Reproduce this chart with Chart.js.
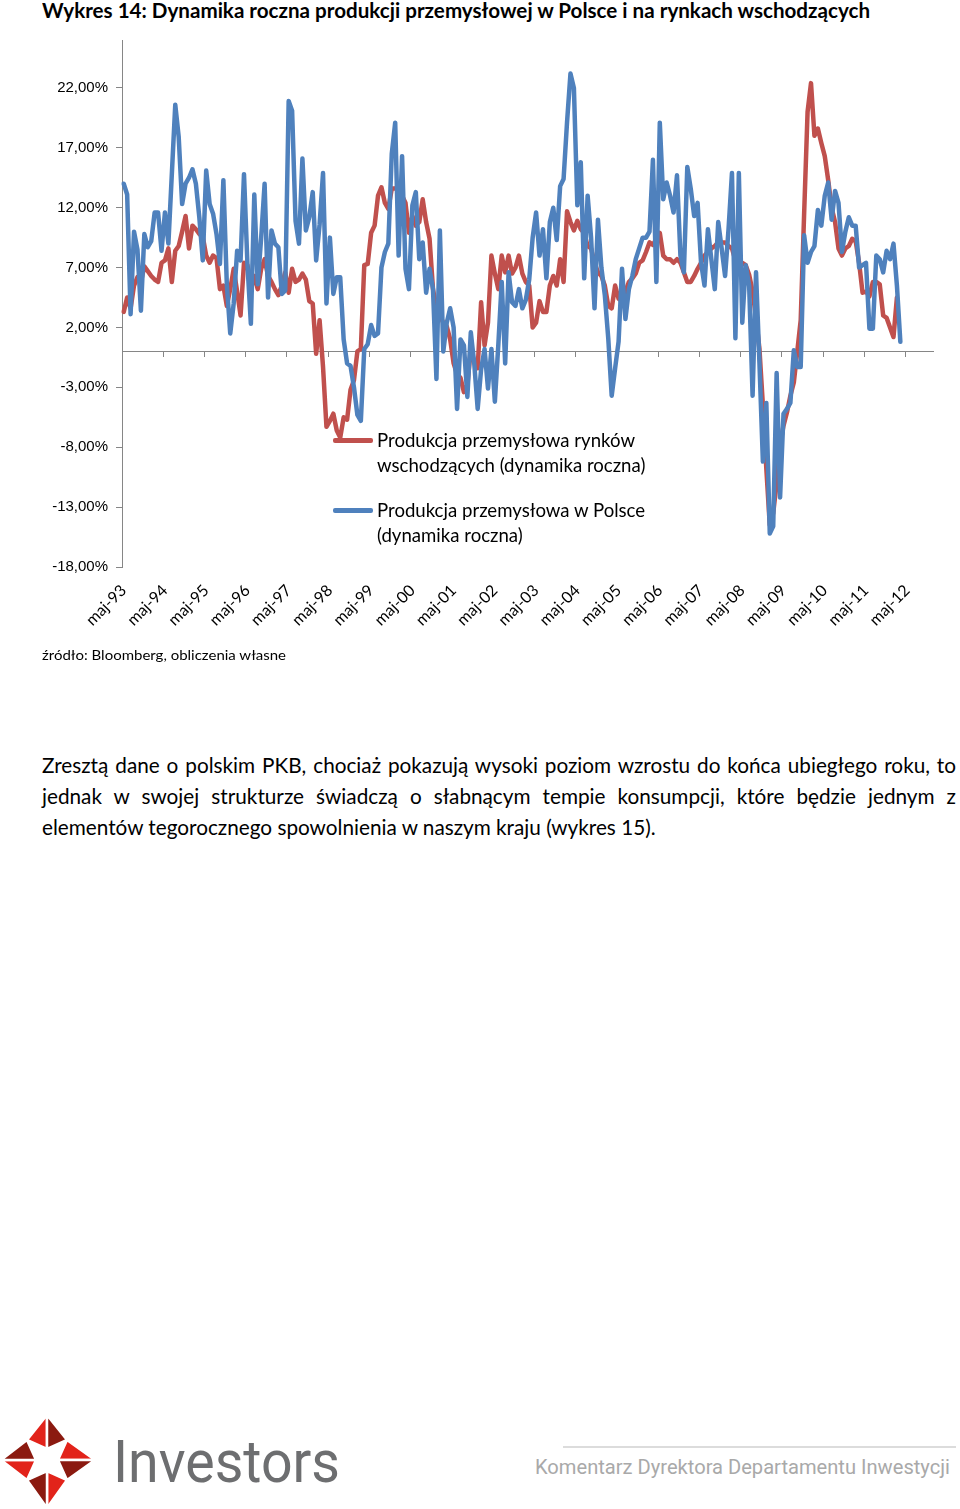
<!DOCTYPE html>
<html lang="pl">
<head>
<meta charset="utf-8">
<script src="https://cdn.jsdelivr.net/npm/chart.js@4.4.0/dist/chart.umd.min.js"></script>
<style>
  html, body { margin: 0; padding: 0; background: #fff; }
  body { width: 960px; height: 1509px; position: relative; overflow: hidden; font-family: Lato, sans-serif; color: #000; }
  .fit { display: inline-block; white-space: nowrap; transform-origin: 0 50%; }
  .title { position: absolute; left: 42px; top: -2px; font-weight: 700; font-size: 20px; line-height: 24px; }
  .chart-box { position: absolute; left: 40px; top: 28px; width: 900px; height: 620px; }
  .legend { position: absolute; left: 333px; top: 428px; font-size: 18.6px; line-height: 25px; }
  .legend-item { display: flex; align-items: flex-start; margin-bottom: 20px; }
  .legend-item .swatch { width: 40px; height: 5px; margin-top: 10px; margin-right: 4px; border-radius: 2px; flex: none; }
  .source { position: absolute; left: 42px; top: 646px; font-size: 14px; line-height: 18px; }
  .para { position: absolute; left: 42px; top: 750px; width: 914px; font-size: 20px; line-height: 31px; }
  .para div { text-align: justify; text-align-last: justify; white-space: nowrap; }
  .para div.last { text-align-last: left; }
  .logo { position: absolute; left: 0; top: 1413px; }
  .brand { position: absolute; left: 113px; top: 1432px; font-family: Roboto, sans-serif; font-size: 60px; line-height: 60px; color: #6d6e70; }
  .rule { position: absolute; left: 563px; top: 1446px; width: 393px; height: 2px; background: #dcdcdc; }
  .komentarz { position: absolute; left: 535px; top: 1455px; font-family: Roboto, sans-serif; font-size: 21px; line-height: 24px; color: #a9a9a9; }
</style>
</head>
<body>
<div class="title"><span class="fit" id="tytul">Wykres 14: Dynamika roczna produkcji przemysłowej w Polsce i na rynkach wschodzących</span></div>

<div class="chart-box"><canvas id="wykres" width="900" height="620"></canvas></div>
<div class="legend" id="legenda"></div>

<div class="source"><span class="fit" id="zrodlo">źródło: Bloomberg, obliczenia własne</span></div>

<div class="para" id="akapit">
  <div>Zresztą dane o polskim PKB, chociaż pokazują wysoki poziom wzrostu do końca ubiegłego roku, to</div>
  <div>jednak w swojej strukturze świadczą o słabnącym tempie konsumpcji, które będzie jednym z</div>
  <div class="last"><span id="linia3">elementów tegorocznego spowolnienia w naszym kraju (wykres 15).</span></div>
</div>

<svg class="logo" width="98" height="98" viewBox="0 0 98 98">
  <g stroke="#fff" stroke-width="2.5" stroke-linejoin="miter">
    <polygon points="47,2 47,36 27,27" fill="#e2231a"/>
    <polygon points="47,2 67,27 47,36" fill="#8b1a10"/>
    <polygon points="95,47 58,47 67,27" fill="#e2231a"/>
    <polygon points="95,47 67,67 58,47" fill="#8b1a10"/>
    <polygon points="47,95 47,58 67,67" fill="#e2231a"/>
    <polygon points="47,95 27,67 47,58" fill="#8b1a10"/>
    <polygon points="1,47 36,47 27,67" fill="#e2231a"/>
    <polygon points="1,47 27,27 36,47" fill="#8b1a10"/>
  </g>
</svg>
<div class="brand"><span class="fit" id="marka">Investors</span></div>
<div class="rule"></div>
<div class="komentarz"><span class="fit" id="komentarz">Komentarz Dyrektora Departamentu Inwestycji</span></div>

<script>
// miesięczne kategorie: maj 1993 - grudzień 2012 (dane do kwietnia 2012)
const miesiace = ['sty', 'lut', 'mar', 'kwi', 'maj', 'cze', 'lip', 'sie', 'wrz', 'paź', 'lis', 'gru'];
const rokStart = 1993;
const miesiacStart = 4;
const liczbaMiesiecy = 236;

const yTicks = [-18, -13, -8, -3, 2, 7, 12, 17, 22];

const seriaRynki = 'Produkcja przemysłowa rynków wschodzących (dynamika roczna)';
const seriaPolska = 'Produkcja przemysłowa w Polsce (dynamika roczna)';

// dynamika r/r w %
const produkcjaRynki = [
  3.3, 4.5, 3.6, 5.5, 6.2, 5.8, 7.1, 6.7, 6.3, 6.0,
  5.8, 7.4, 7.6, 8.6, 5.8, 8.4, 8.8, 10.0, 11.3, 8.6,
  10.5, 10.2, 9.8, 9.6, 8.0, 7.4, 8.0, 7.8, 5.2, 5.5,
  3.8, 5.2, 6.9, 5.0, 3.0, 7.4, 7.2, 5.2, 6.3, 5.2,
  6.9, 7.7, 6.3, 5.8, 5.2, 4.7, 5.5, 6.6, 4.9, 6.9,
  5.8, 6.0, 6.5, 6.0, 4.2, 4.0, -0.2, 2.6, -1.3, -6.3,
  -5.8, -5.2, -6.6, -7.2, -5.5, -5.7, -3.2, -2.4, 0.0, 0.2,
  7.2, 7.3, 9.9, 10.5, 13.0, 13.7, 12.4, 11.9, 13.6, 13.6,
  13.8, 13.0, 12.4, 9.9, 11.3, 10.5, 10.8, 12.7, 10.8, 9.4,
  5.2, 3.6, 3.0, 2.4, 2.1, 1.0, -1.0, -1.9, -2.2, -3.4,
  -2.8, 0.2, -0.9, -1.4, 4.1, 0.5, 2.4, 8.0, 6.5, 5.2,
  8.0, 6.6, 8.0, 6.5, 7.0, 8.0, 6.5, 5.8, 5.5, 2.0,
  2.4, 4.2, 3.3, 3.3, 5.5, 6.3, 5.5, 7.7, 5.8, 11.7,
  10.8, 10.1, 10.9, 10.2, 9.9, 8.8, 8.6, 7.4, 6.6, 6.3,
  5.5, 3.8, 3.6, 5.5, 4.4, 4.2, 5.0, 5.8, 6.1, 6.5,
  7.4, 7.6, 8.3, 9.1, 8.9, 9.4, 9.9, 8.0, 7.7, 7.7,
  7.4, 7.7, 7.4, 6.6, 5.8, 5.8, 6.3, 6.9, 7.4, 8.0,
  8.3, 8.6, 8.8, 9.1, 9.1, 9.1, 8.8, 8.6, 7.6, 7.4,
  7.4, 7.2, 6.4, 5.0, 2.8, 0.2, -4.5, -9.8, -14.5, -13.5,
  -11.0, -7.8, -6.2, -5.1, -3.7, -2.6, 0.0, 2.6, 11.5, 20.0,
  22.4, 18.0, 18.6, 17.4, 16.3, 14.3, 12.0, 10.8, 8.6, 8.0,
  8.6, 8.8, 9.4, 9.2, 7.4, 4.9, 5.0, 4.6, 5.8, 5.8,
  5.6, 3.0, 2.8, 2.0, 1.2, 4.5
];

const produkcjaPolska = [
  14.0, 13.1, 3.1, 10.0, 8.5, 3.4, 9.8, 8.7, 9.2, 11.6,
  11.6, 8.4, 11.6, 9.0, 14.8, 20.6, 17.9, 12.3, 14.0, 14.5,
  15.2, 14.0, 11.2, 7.6, 15.1, 12.3, 11.5, 9.8, 7.3, 14.3,
  5.6, 1.5, 4.0, 8.4, 7.6, 14.8, 7.3, 2.3, 13.1, 5.6,
  9.5, 14.0, 4.5, 10.1, 9.0, 8.7, 4.8, 5.1, 20.9, 20.1,
  10.9, 9.0, 16.1, 10.1, 11.2, 13.3, 7.6, 10.6, 14.9, 4.0,
  9.5, 4.8, 6.2, 6.2, 1.0, -1.0, -1.2, -3.0, -5.3, -5.8,
  0.2, 0.6, 2.2, 1.3, 1.5, 7.0, 8.3, 9.0, 16.5, 19.1,
  8.0, 16.3, 6.9, 5.2, 12.2, 13.3, 7.7, 9.1, 4.9, 6.9,
  5.2, -2.3, 10.1, 0.0, 2.4, 3.6, 2.0, -4.8, 1.0, 0.5,
  -3.8, 1.6, -1.0, -4.8, -1.5, 0.2, -3.1, 0.2, -4.2, 0.5,
  5.8, -1.0, 6.6, 4.1, 3.8, 5.2, 3.6, 4.3, 6.0, 9.5,
  11.6, 8.0, 10.2, 6.1, 10.8, 12.0, 9.3, 13.8, 14.4, 19.1,
  23.2, 22.0, 12.2, 15.8, 6.1, 13.0, 9.5, 3.6, 11.0, 7.0,
  4.7, 1.1, -3.7, -1.4, 0.8, 6.9, 2.7, 5.2, 6.3, 7.7,
  8.6, 9.5, 9.5, 10.0, 16.0, 5.8, 19.1, 12.7, 14.1, 13.0,
  11.6, 14.7, 8.0, 6.6, 15.4, 13.6, 11.3, 12.4, 7.4, 5.5,
  10.2, 7.7, 5.2, 10.8, 8.6, 6.3, 10.2, 14.9, 1.1, 14.9,
  2.4, 7.2, 5.5, -3.7, 6.6, -1.0, -9.2, -4.3, -15.2, -14.6,
  -1.8, -12.2, -5.2, -4.8, -4.3, 0.1, -1.3, -1.3, 9.7, 7.4,
  8.3, 8.8, 11.8, 10.5, 13.0, 14.1, 11.0, 13.4, 12.4, 8.3,
  10.0, 11.2, 10.5, 10.5, 7.0, 7.2, 7.4, 1.9, 1.9, 8.0,
  7.7, 6.6, 8.4, 7.7, 9.0, 5.5, 0.8
];

const kolorRynki = '#C0504D';
const kolorPolska = '#4F81BD';
const kolorOsi = '#868686';

const etykiety = [];
for (let k = 0; k < liczbaMiesiecy; k++) {
  const m = (miesiacStart + k) % 12;
  const rok = rokStart + Math.floor((miesiacStart + k) / 12);
  etykiety.push(miesiace[m] + '-' + String(rok).slice(2));
}

// legenda w HTML (dwie linie tekstu na wpis, łamanie jak w oryginale)
const legenda = document.getElementById('legenda');
[
  ['Produkcja przemysłowa rynków<br>wschodzących (dynamika roczna)', kolorRynki],
  ['Produkcja przemysłowa w Polsce<br>(dynamika roczna)', kolorPolska]
].forEach(([txt, kolor]) => {
  const item = document.createElement('div');
  item.className = 'legend-item';
  const sw = document.createElement('div');
  sw.className = 'swatch';
  sw.style.background = kolor;
  const t = document.createElement('div');
  t.innerHTML = txt;
  item.appendChild(sw);
  item.appendChild(t);
  legenda.appendChild(item);
});

function dopasuj(id, szer) {
  const el = document.getElementById(id);
  const w = el.getBoundingClientRect().width;
  el.style.transform = 'scaleX(' + (szer / w) + ')';
}
dopasuj('tytul', 828);
dopasuj('zrodlo', 244);
dopasuj('marka', 227);
dopasuj('komentarz', 415);

const akapit = document.getElementById('akapit');
const w3 = document.getElementById('linia3').getBoundingClientRect().width;
akapit.style.fontSize = (20 * 614 / w3) + 'px';

const ctx = document.getElementById('wykres').getContext('2d');
new Chart(ctx, {
  type: 'line',
  data: {
    labels: etykiety,
    datasets: [
      {
        label: seriaRynki,
        data: produkcjaRynki,
        borderColor: kolorRynki,
        borderWidth: 4.5,
        pointRadius: 0,
        tension: 0,
        borderJoinStyle: 'round',
        borderCapStyle: 'round',
        order: 2
      },
      {
        label: seriaPolska,
        data: produkcjaPolska,
        borderColor: kolorPolska,
        borderWidth: 4.5,
        pointRadius: 0,
        tension: 0,
        borderJoinStyle: 'round',
        borderCapStyle: 'round',
        order: 1
      }
    ]
  },
  options: {
    responsive: false,
    animation: false,
    devicePixelRatio: 1,
    layout: { padding: { top: 12, right: 7, left: 0, bottom: 0 } },
    plugins: {
      legend: { display: false },
      tooltip: { enabled: false }
    },
    scales: {
      x: {
        type: 'category',
        offset: true,
        grid: { display: false, drawTicks: false },
        border: { display: false },
        ticks: {
          autoSkip: false,
          maxRotation: 45,
          minRotation: 45,
          padding: 14,
          color: '#000',
          font: { family: 'Lato', size: 16 },
          callback: function (val, idx) {
            return idx % 12 === 0 ? this.getLabelForValue(val) : '';
          }
        },
        afterFit: (s) => { s.height = 81; s.paddingLeft = 0; s.paddingRight = 0; }
      },
      x0: {
        type: 'category',
        axis: 'x',
        position: { y: 0 },
        offset: true,
        grid: {
          offset: true,
          drawOnChartArea: false,
          drawTicks: true,
          tickLength: 5,
          tickWidth: 1,
          tickColor: (c) => (c.index % 12 === 0 ? kolorOsi : 'rgba(0,0,0,0)')
        },
        border: { display: true, color: kolorOsi, width: 1 },
        ticks: { display: false },
        afterFit: (s) => { s.paddingTop = 0; s.paddingBottom = 0; s.paddingLeft = 0; s.paddingRight = 0; }
      },
      y: {
        min: -18,
        max: 26,
        afterBuildTicks: (a) => { a.ticks = yTicks.map((v) => ({ value: v })); },
        grid: { drawOnChartArea: false, tickLength: 6, color: kolorOsi },
        border: { color: kolorOsi, width: 1 },
        ticks: {
          padding: 8,
          color: '#000',
          font: { family: 'Liberation Sans', size: 15 },
          callback: (v) => v.toFixed(2).replace('.', ',') + '%'
        },
        afterFit: (s) => { s.width = 82; s.paddingTop = 0; s.paddingBottom = 0; }
      }
    }
  }
});
</script>
</body>
</html>
